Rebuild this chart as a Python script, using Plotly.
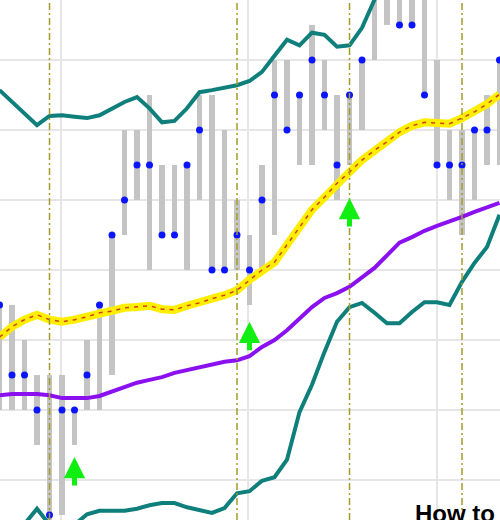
import plotly.graph_objects as go

# bar index (one per session)
idx = list(range(41))

high = [22.5, 22.5, 22.0, 21.5, 21.5, 21.5, 21.0, 22.0, 22.5, 23.5,
        25.0, 25.0, 25.5, 24.5, 24.5, 24.5, 25.5, 25.5, 25.0, 24.0,
        23.5, 24.5, 26.0, 26.0, 25.5, 26.5, 26.0, 25.5, 25.5, 26.0,
        27.5, 27.5, 27.0, 27.0, 27.0, 26.0, 25.0, 25.0, 25.0, 25.5, 26.0]
low = [21.0, 21.0, 21.0, 20.5, 19.0, 19.5, 20.5, 21.0, 21.0, 21.5,
       23.5, 24.0, 23.0, 23.5, 23.5, 23.0, 24.0, 23.0, 23.0, 23.0,
       22.5, 23.0, 23.5, 25.0, 24.5, 24.5, 25.0, 24.0, 24.5, 25.0,
       26.0, 26.5, 26.5, 26.5, 25.5, 24.5, 24.0, 23.5, 24.0, 24.5, 24.5]
close = [22.5, 21.5, 21.5, 21.0, 19.5, 21.0, 21.0, 21.5, 22.5, 23.5,
         24.0, 24.5, 24.5, 23.5, 23.5, 24.5, 25.0, 23.0, 23.0, 23.5,
         23.0, 24.0, 25.5, 25.0, 25.5, 26.0, 25.5, 24.5, 25.5, 26.0,
         27.0, 27.0, 26.5, 26.5, 25.5, 24.5, 24.5, 24.5, 25.0, 25.0, 26.0]

ma_fast = [22.04, 22.19, 22.29, 22.36, 22.29, 22.26, 22.29, 22.33, 22.39, 22.41,
           22.46, 22.47, 22.49, 22.44, 22.43, 22.49, 22.53, 22.59, 22.64, 22.71,
           22.86, 23.00, 23.11, 23.36, 23.60, 23.86, 24.04, 24.24, 24.40, 24.57,
           24.71, 24.83, 24.97, 25.06, 25.11, 25.10, 25.09, 25.17, 25.26, 25.37, 25.51]
ma_slow = [21.21, 21.23, 21.23, 21.23, 21.21, 21.17, 21.17, 21.17, 21.20, 21.26,
           21.33, 21.39, 21.43, 21.47, 21.53, 21.57, 21.60, 21.64, 21.69, 21.71,
           21.77, 21.90, 22.00, 22.14, 22.31, 22.47, 22.60, 22.67, 22.76, 22.90,
           23.03, 23.21, 23.39, 23.47, 23.56, 23.63, 23.69, 23.76, 23.83, 23.90, 23.96]
band_upper = [25.57, 25.40, 25.23, 25.07, 25.20, 25.21, 25.19, 25.17, 25.21, 25.31,
              25.40, 25.47, 25.31, 25.11, 25.13, 25.31, 25.54, 25.57, 25.60, 25.64,
              25.70, 25.83, 26.06, 26.29, 26.21, 26.39, 26.36, 26.19, 26.21, 26.46,
              26.86, 27.21, 27.43, 27.50, 27.55, 27.60, 27.60, 27.55, 27.50, 27.45, 27.40]
band_lower = [19.07, 19.21, 19.37, 19.59, 19.36, 19.21, 19.36, 19.51, 19.56, 19.56,
              19.56, 19.59, 19.64, 19.67, 19.67, 19.61, 19.57, 19.53, 19.60, 19.81,
              19.84, 19.99, 20.04, 20.29, 20.97, 21.36, 21.83, 22.26, 22.47, 22.53,
              22.39, 22.24, 22.24, 22.40, 22.54, 22.54, 22.50, 22.83, 23.10, 23.33, 23.79]

signal_lines = [4, 19, 28, 37]
buy_idx = [6, 20, 28]
buy_tip = [20.33, 22.26, 24.03]
grid_x = [4.9, 19.9, 35.0]

fig = go.Figure()

# high-low bars
fig.add_trace(go.Bar(
    x=idx, y=[h - l for h, l in zip(high, low)], base=low,
    width=0.42, marker=dict(color="#c4c4c4", line=dict(width=0)),
))

fig.add_trace(go.Scatter(x=idx, y=band_upper, mode="lines",
                         line=dict(color="#0e7f7a", width=4)))
fig.add_trace(go.Scatter(x=idx, y=band_lower, mode="lines",
                         line=dict(color="#0e7f7a", width=4)))
fig.add_trace(go.Scatter(x=idx, y=ma_slow, mode="lines",
                         line=dict(color="#8a10f0", width=4)))
fig.add_trace(go.Scatter(x=idx, y=ma_fast, mode="lines",
                         line=dict(color="#ffee00", width=8)))
fig.add_trace(go.Scatter(x=idx, y=ma_fast, mode="lines",
                         line=dict(color="#d2401a", width=1.5, dash="4px,5px")))

# close markers
fig.add_trace(go.Scatter(x=idx, y=close, mode="markers",
                         marker=dict(color="#0a14ff", size=7, symbol="circle")))

for sx in signal_lines:
    fig.add_shape(type="line", x0=sx, x1=sx, y0=0, y1=1, xref="x", yref="paper",
                  line=dict(color="#a39c2a", width=1.5, dash="7px,3px,2px,3px"))

for bx, by in zip(buy_idx, buy_tip):
    fig.add_annotation(x=bx, y=by, ax=0, ay=30, text="", showarrow=True,
                       arrowhead=2, arrowsize=0.85, arrowwidth=5,
                       arrowcolor="#11ee11", standoff=0)

fig.add_annotation(x=0.826, y=0, xref="paper", yref="paper", text="<b>How to</b>",
                   showarrow=False, xanchor="left", yanchor="top", yshift=22,
                   font=dict(family="Liberation Sans, Arial", size=24, color="black"))

fig.update_layout(
    width=500, height=520,
    margin=dict(l=0, r=0, t=0, b=0),
    showlegend=False,
    paper_bgcolor="white",
    plot_bgcolor="white",
    bargap=0,
)
fig.update_xaxes(range=[0.04, 40.04], tickvals=grid_x, showticklabels=False,
                 showgrid=True, gridcolor="#e6e6e6", gridwidth=1.5, zeroline=False)
fig.update_yaxes(range=[19.4286, 26.8571], dtick=1, tick0=20, showticklabels=False,
                 showgrid=True, gridcolor="#e6e6e6", gridwidth=1.5, zeroline=False)

fig.write_html("out.html", config={"displayModeBar": False},
               post_script="document.body.style.margin='0px';")
